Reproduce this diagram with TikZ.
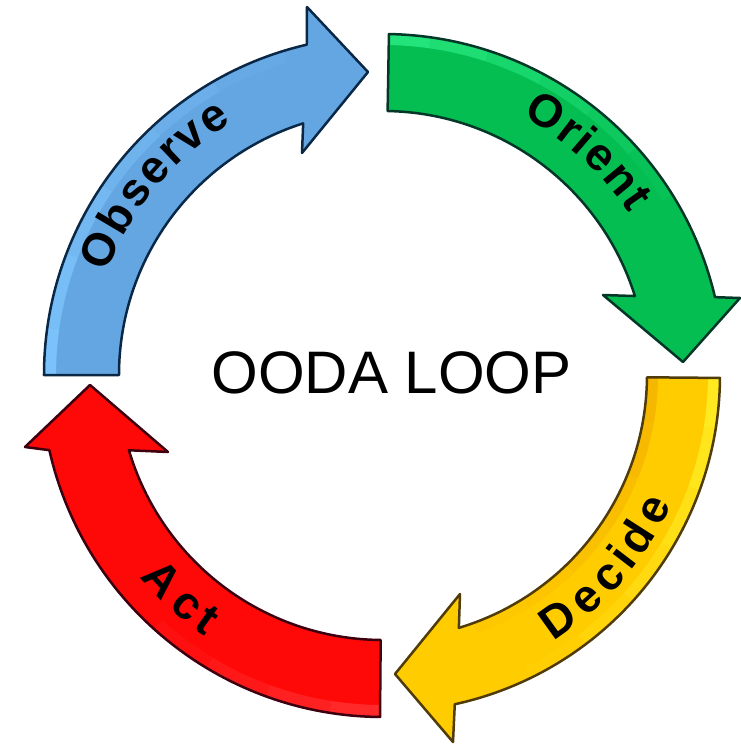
\documentclass[tikz,border=0pt]{standalone}
\usepackage{fontspec}
\setmainfont{Liberation Sans}
\definecolor{obsblue}{RGB}{100,166,226}
\definecolor{obslight}{RGB}{128,200,255}
\definecolor{obsedge}{RGB}{10,40,70}
\definecolor{origreen}{RGB}{4,190,82}
\definecolor{orilight}{RGB}{40,235,130}
\definecolor{oriedge}{RGB}{5,55,40}
\definecolor{decyellow}{RGB}{255,204,0}
\definecolor{declight}{RGB}{255,240,40}
\definecolor{decdark}{RGB}{240,170,0}
\definecolor{decedge}{RGB}{80,60,10}
\definecolor{actred}{RGB}{255,8,8}
\definecolor{actlight}{RGB}{255,50,50}
\definecolor{actedge}{RGB}{60,0,15}
\newcommand\obspath{(180:339) arc[start angle=180, end angle=103, radius=339]
  -- (-76,368) -- (-15,303) -- (-81,222)
  -- (107.6:264) arc[start angle=107.6, end angle=180, radius=264] -- cycle}
\newcommand\oripath{(89:341) arc[start angle=89, end angle=13.2, radius=341]
  -- (357,77) -- (300,13) -- (220,80)
  -- (17.4:264) arc[start angle=17.4, end angle=89, radius=264] -- cycle}
\newcommand\decpath{(-0.5:337) arc[start angle=-0.5, end angle=-77.7, radius=337]
  -- (70,-367) -- (12,-299) -- (77,-219)
  -- (-73.3:264) arc[start angle=-73.3, end angle=-0.5, radius=264] -- cycle}
\newcommand\actpath{(269.5:342) arc[start angle=269.5, end angle=192.7, radius=342]
  -- (-358,-72) -- (-293,-10) -- (-215,-77)
  -- (196.5:265) arc[start angle=196.5, end angle=269.5, radius=265] -- cycle}
\begin{document}
\begin{tikzpicture}[x=1pt,y=1pt,
  arrowshape/.style={line width=2.5pt, line join=round},
  glow/.style={line width=14pt},
  toplbl/.style={font=\bfseries\fontsize{46}{46}\selectfont, anchor=base, inner sep=0pt},
  titlelbl/.style={font=\fontsize{60}{60}\selectfont, anchor=base, inner sep=0pt}]
\useasboundingbox (-383,-369) rectangle (357,375);
% Observe (blue)
\fill[obsblue] \obspath;
\begin{scope}
  \clip \obspath;
  \foreach \s/\o in {0/0.85,1/0.7,2/0.55,3/0.4,4/0.25,5/0.1}
    \draw[glow, obslight, opacity=\o] (185-13*\s:334) arc[start angle=185-13*\s, end angle=172-13*\s, radius=334];
\end{scope}
\draw[arrowshape, draw=obsedge] \obspath;
% Orient (green)
\fill[origreen] \oripath;
\begin{scope}
  \clip \oripath;
  \foreach \s/\o in {0/0.85,1/0.7,2/0.55,3/0.4,4/0.25,5/0.1}
    \draw[glow, orilight, opacity=\o] (92-10*\s:337) arc[start angle=92-10*\s, end angle=82-10*\s, radius=337];
\end{scope}
\draw[arrowshape, draw=oriedge] \oripath;
% Decide (yellow)
\fill[decyellow] \decpath;
\begin{scope}
  \clip \decpath;
  \foreach \s/\o in {0/0.85,1/0.7,2/0.55,3/0.4,4/0.25,5/0.1}
    \draw[glow, declight, opacity=\o] (2-11*\s:332) arc[start angle=2-11*\s, end angle=-9-11*\s, radius=332];
  \foreach \s/\o in {0/0.6,1/0.5,2/0.4,3/0.3,4/0.2,5/0.1}
    \draw[glow, decdark, opacity=\o] (2-12*\s:268) arc[start angle=2-12*\s, end angle=-10-12*\s, radius=268];
\end{scope}
\draw[arrowshape, draw=decedge] \decpath;
% Act (red)
\fill[actred] \actpath;
\begin{scope}
  \clip \actpath;
  \foreach \s/\o in {0/0.8,1/0.6,2/0.4,3/0.2}
    \draw[glow, actlight, opacity=\o] (272-11*\s:337) arc[start angle=272-11*\s, end angle=261-11*\s, radius=337];
\end{scope}
\draw[arrowshape, draw=actedge] \actpath;
% labels
\foreach \a/\l [count=\i] in {156.2/O,149.4/b,143.6/s,138.2/e,133.5/r,128.9/v,123.4/e}
  \node[toplbl, rotate=\a-90] (obs\i) at (\a:294) {\l};
\foreach \a/\l [count=\i] in {58.3/O,52.56/r,49.28/i,45.18/e,39.44/n,34.8/t}
  \node[toplbl, rotate=\a-90] (ori\i) at (\a:294) {\l};
\foreach \a/\l [count=\i] in {-54.4/D,-47.64/e,-41.77/c,-37.36/i,-32.66/d,-26.5/e}
  \node[toplbl, rotate=\a+90] (dec\i) at (\a:316) {\l};
\foreach \a/\l [count=\i] in {222.8/A,229.6/c,234.3/t}
  \node[toplbl, rotate=\a+90] (act\i) at (\a:316) {\l};
\node[titlelbl] (title) at (8.5,-18) {OODA LOOP};
\end{tikzpicture}
\end{document}
